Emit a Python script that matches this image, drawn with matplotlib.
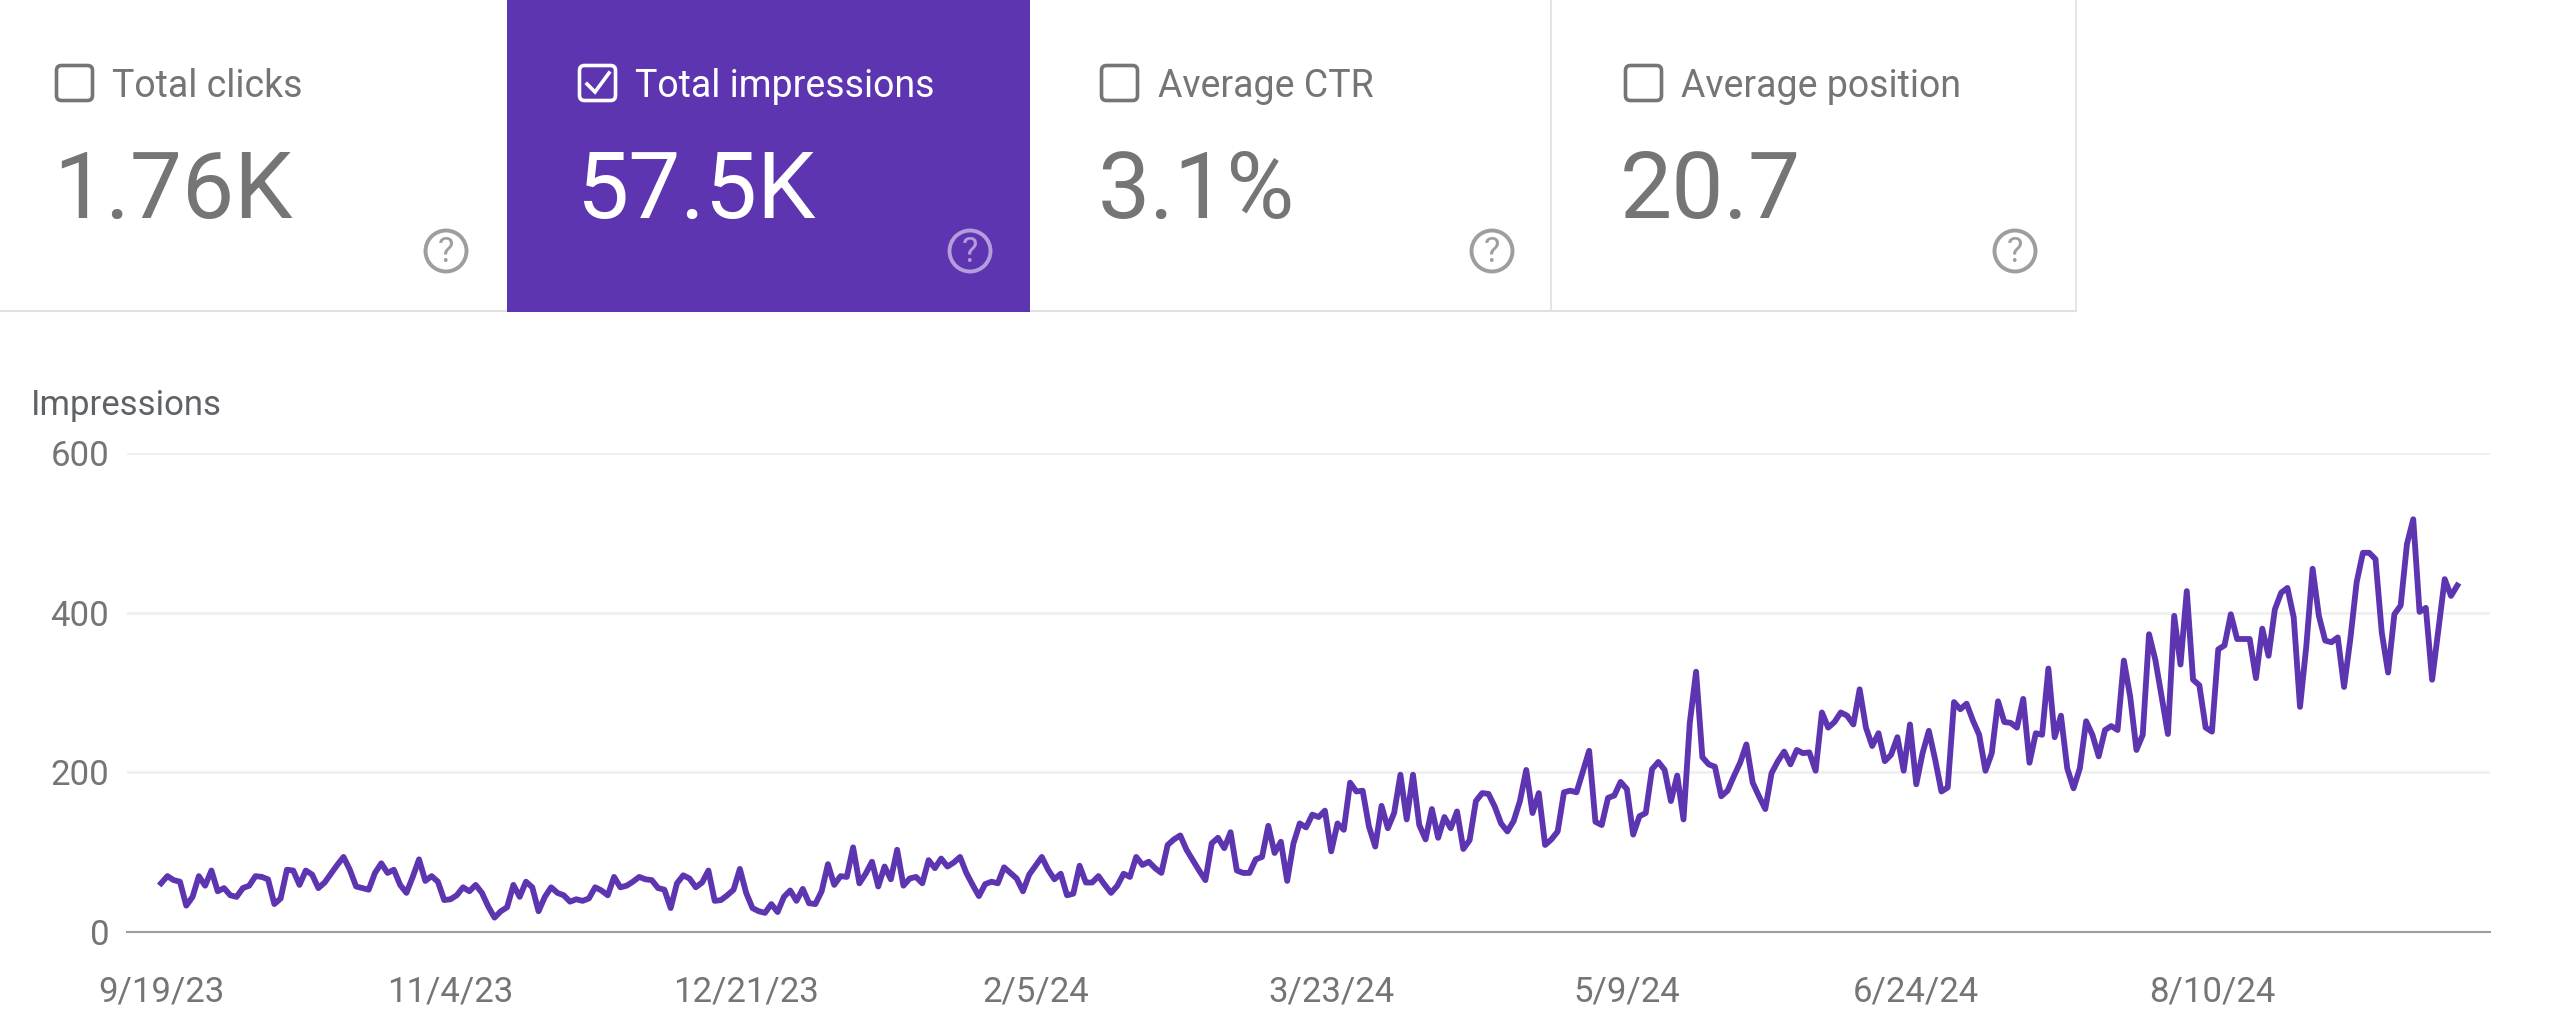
import pandas as pd
import matplotlib
matplotlib.use('Agg')
import matplotlib.pyplot as plt
from matplotlib.patches import Rectangle, FancyBboxPatch, Circle

plt.rcParams['font.family'] = ['Roboto', 'DejaVu Sans']

# Daily impressions
impressions = [
    61, 70, 65, 63, 33, 44, 70, 58, 77, 51, 55, 46, 44, 55, 58, 70, 69, 66, 35, 42,
    78, 77, 59, 77, 72, 55, 62, 73, 84, 94, 78, 57, 55, 53, 74, 86, 74, 78, 59, 49,
    69, 91, 64, 70, 63, 40, 41, 46, 56, 51, 59, 49, 32, 18, 26, 31, 59, 44, 63, 56,
    26, 44,
    56, 49, 46, 38, 41, 39, 42, 56, 52, 46, 69, 56, 58, 63, 69, 66, 65, 55, 53, 30,
    61, 71, 67, 56, 62, 77, 39, 40, 46, 53, 79, 49, 30, 26, 24, 35, 25, 44, 52, 39,
    54, 36, 35, 51, 85, 59, 70, 69, 106, 61, 73, 88, 57, 82, 66, 103, 58, 67, 69, 61,
    90,
    80, 92, 82, 87, 94, 74, 59, 45, 60, 63, 61, 81, 74, 67, 51, 72, 83, 94, 78, 66,
    73, 46, 48, 83, 62, 62, 70, 59, 49, 58, 73, 69, 94, 84, 88, 80, 74, 109, 116, 121,
    103, 90, 77, 65, 111, 118, 105, 125, 77, 74, 74, 91, 94, 133, 99, 113, 64, 111, 136, 131,
    147,
    144, 152, 101, 136, 128, 187, 176, 177, 132, 107, 158, 130, 149, 197, 141, 197, 134, 116, 154, 118,
    144, 130, 151, 104, 115, 164, 174, 173, 157, 136, 126, 139, 164, 203, 149, 174, 109, 116, 126, 175,
    177, 175, 201, 227, 138, 134, 168, 171, 188, 179, 122, 145, 149, 204, 213, 203, 164, 196, 141, 262,
    326,
    219, 210, 207, 170, 177, 195, 212, 235, 187, 170, 154, 199, 214, 226, 210, 228, 224, 225, 202, 275,
    256, 263, 275, 271, 260, 304, 256, 233, 249, 214, 222, 244, 202, 260, 185, 224, 252, 216, 176, 181,
    288, 279, 286, 265, 247, 202, 224, 289, 263, 262, 256, 292, 212, 249, 247, 330, 244, 271, 205, 180,
    205, 264,
    247, 220, 253, 258, 253, 340, 295, 228, 247, 373, 341, 295, 248, 396, 335, 427, 316, 309, 256, 251,
    354, 359, 398, 367, 367, 367, 318, 380, 346, 404, 425, 431, 394, 282, 358, 455, 396, 365, 363, 369,
    307, 367, 438, 475, 475, 467, 375, 325, 398, 409, 486, 517, 401, 406, 316, 379, 442, 421, 434,
]
dates = pd.date_range('2023-09-19', periods=len(impressions), freq='D')

x_tick_dates = ['2023-09-19', '2023-11-04', '2023-12-21', '2024-02-05',
                '2024-03-23', '2024-05-09', '2024-06-24', '2024-08-10']
x_tick_labels = ['9/19/23', '11/4/23', '12/21/23', '2/5/24',
                 '3/23/24', '5/9/24', '6/24/24', '8/10/24']
y_ticks = [0, 200, 400, 600]

card_labels = ['Total clicks', 'Total impressions', 'Average CTR', 'Average position']
card_values = ['1.76K', '57.5K', '3.1%', '20.7']
card_selected = [False, True, False, False]

W, H = 2560, 1033
PURPLE = '#5e35b1'
GREY = '#757575'

fig = plt.figure(figsize=(W / 100, H / 100), dpi=100, facecolor='white')

# Background layer in pixel coordinates for the cards
bg = fig.add_axes([0, 0, 1, 1])
bg.set_xlim(0, W)
bg.set_ylim(H, 0)
bg.axis('off')

card_edges = [0, 507, 1030, 1551, 2076]
box_x = [55, 578, 1100, 1624]
label_x = [112, 635, 1158, 1681]
value_x = [53, 576, 1098, 1620]
help_x = [446, 970, 1492, 2015]

bg.plot([0, 2076], [311, 311], color='#e0e0e0', lw=1.5, zorder=1)
for edge in [1551, 2076]:
    bg.plot([edge, edge], [0, 311], color='#e0e0e0', lw=1.2, zorder=1)

for i, label in enumerate(card_labels):
    on = card_selected[i]
    if on:
        bg.add_patch(Rectangle((card_edges[i], 0), card_edges[i + 1] - card_edges[i], 312,
                               facecolor=PURPLE, edgecolor='none', zorder=2))
    fg = 'white' if on else GREY
    bg.add_patch(FancyBboxPatch((box_x[i] + 1.5, 65.5), 36, 35, boxstyle='round,pad=0,rounding_size=5',
                                facecolor='none', edgecolor=fg, lw=2.6, zorder=3))
    if on:
        bg.plot([box_x[i] + 9, box_x[i] + 17, box_x[i] + 31], [84, 92, 73], color='white',
                lw=2.6, zorder=4, solid_joinstyle='miter')
    bg.text(label_x[i], 97, label, color=fg, fontsize=27, va='baseline', ha='left', zorder=4)
    bg.text(value_x[i], 218, card_values[i], color=fg, fontsize=67, va='baseline', ha='left', zorder=4)
    help_col = '#b39ddb' if on else '#9e9e9e'
    bg.add_patch(Circle((help_x[i], 251), 20.5, facecolor='none', edgecolor=help_col, lw=2.8, zorder=3))
    bg.text(help_x[i], 252, '?', color=help_col, fontsize=25, ha='center', va='center', zorder=4)

bg.text(31, 405, 'Impressions', color='#5f6368', fontsize=25, va='center', ha='left')

# Chart
left, right, top, bottom = 126.5, 2490, 453, 932
ax = fig.add_axes([left / W, 1 - bottom / H, (right - left) / W, (bottom - top) / H])
ax.patch.set_alpha(0)
ax.plot(dates, impressions, color=PURPLE, lw=4.2, solid_joinstyle='round', zorder=3, clip_on=False)
ax.set_xlim(dates[0] - pd.Timedelta(days=5.5), dates[-1] + pd.Timedelta(days=5.2))
ax.set_ylim(0, 600)

ax.set_yticks(y_ticks)
ax.set_xticks(pd.to_datetime(x_tick_dates))
ax.set_xticklabels(x_tick_labels)
ax.tick_params(axis='y', length=0, pad=12.5, labelsize=25, labelcolor=GREY)
ax.tick_params(axis='x', length=0, pad=31, labelsize=25, labelcolor=GREY)
ax.grid(axis='y', color='#eeeeee', lw=1.8, zorder=0)
ax.grid(axis='x', visible=False)
for side in ['top', 'left', 'right']:
    ax.spines[side].set_visible(False)
ax.spines['bottom'].set_color('#9e9e9e')
ax.spines['bottom'].set_linewidth(1.5)

fig.savefig('out.png', dpi=100)
